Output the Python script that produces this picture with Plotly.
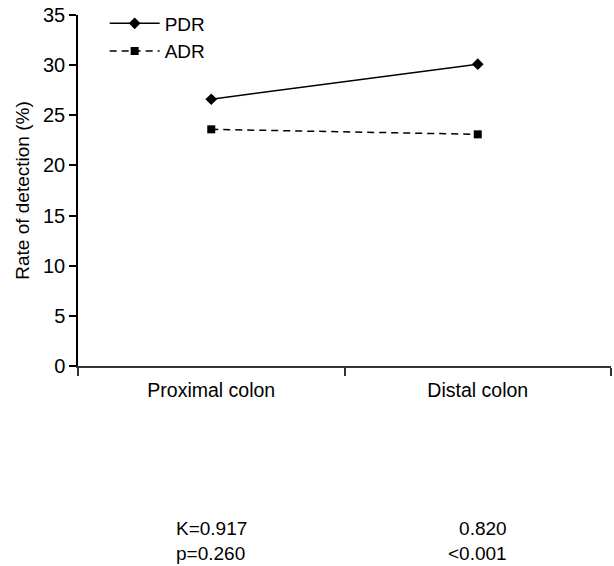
import plotly.graph_objects as go

categories = ["Proximal colon", "Distal colon"]
pdr = [26.6, 30.1]
adr = [23.6, 23.1]
kappa = ["0.917", "0.820"]
pvals = ["0.260", "<0.001"]

FONT = "Liberation Sans, Arial, sans-serif"

W, H = 614, 566

fig = go.Figure()
fig.add_trace(go.Scatter(
    x=categories, y=pdr, name="PDR", mode="lines+markers",
    line=dict(color="black", width=1.5),
    marker=dict(symbol="diamond", size=9, color="black"),
))
fig.add_trace(go.Scatter(
    x=categories, y=adr, name="ADR", mode="lines+markers",
    line=dict(color="black", width=1.5, dash="7px,5px"),
    marker=dict(symbol="square", size=8, color="black"),
))

fig.add_annotation(x=categories[0], xref="x", y=-0.498, yref="paper",
                   text=f"K={kappa[0]}<br>p={pvals[0]}", showarrow=False,
                   align="left", xanchor="center", yanchor="middle",
                   font=dict(family=FONT, size=19, color="black"))
fig.add_annotation(x=categories[1], xref="x", y=-0.498, yref="paper",
                   text=f"{kappa[1]}<br>{pvals[1]}", showarrow=False,
                   align="right", xanchor="center", yanchor="middle",
                   font=dict(family=FONT, size=19, color="black"))

fig.update_layout(
    width=W, height=H,
    margin=dict(l=78, r=3, t=15, b=200, autoexpand=False),
    paper_bgcolor="white", plot_bgcolor="white",
    font=dict(family=FONT, size=19, color="black"),
    showlegend=True,
    legend=dict(x=0.05, y=1.03, xanchor="left", yanchor="top",
                bgcolor="rgba(0,0,0,0)", font=dict(size=19),
                tracegroupgap=0, itemwidth=50),
    xaxis=dict(
        type="category", range=[-0.5, 1.5],
        showline=True, linecolor="#333", linewidth=1.5,
        ticks="outside", tickson="boundaries", ticklen=8, tickwidth=1.5, tickcolor="#333",
        showgrid=False, zeroline=False,
        tickfont=dict(size=19.5), ticklabelstandoff=6,
    ),
    yaxis=dict(
        range=[0, 35], tickvals=[0, 5, 10, 15, 20, 25, 30, 35],
        showline=True, linecolor="black", linewidth=1.5,
        ticks="outside", ticklen=7, tickwidth=1.5, tickcolor="black",
        showgrid=False, zeroline=False, ticklabeloverflow="allow",
        tickfont=dict(size=20),
        title=dict(text="Rate of detection (%)", font=dict(size=19), standoff=8),
    ),
)

fig.write_html("out.html",
               config={"displayModeBar": False},
               post_script="document.body.style.margin='0';document.body.style.overflow='hidden';")
